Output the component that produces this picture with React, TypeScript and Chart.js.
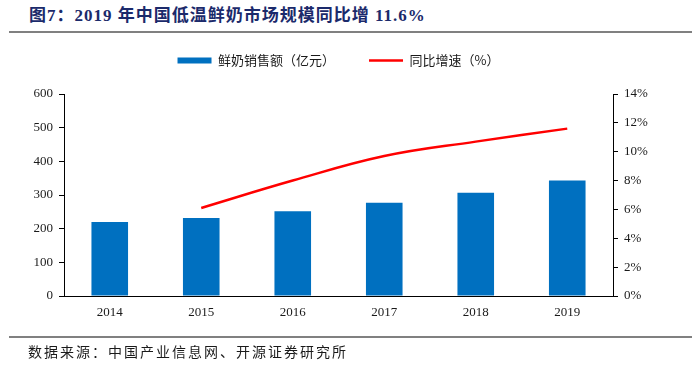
import React, { useEffect, useRef } from "react";
import { Chart, registerables } from "chart.js";

Chart.register(...registerables);

const categories = ["2014", "2015", "2016", "2017", "2018", "2019"];
const salesValues = [220, 232, 252, 277, 307, 343];
const growthValues: (number | null)[] = [null, 6.1, 8.0, 9.7, 10.7, 11.6];
const salesLabel = "鲜奶销售额（亿元）";
const growthLabel = "同比增速（%）";
const titleText = "图7：2019 年中国低温鲜奶市场规模同比增 11.6%";
const sourceText = "数据来源：中国产业信息网、开源证券研究所";

export default function App() {
  const canvasRef = useRef<HTMLCanvasElement | null>(null);

  useEffect(() => {
    if (!canvasRef.current) return;
    const tickFont = { family: "'Liberation Serif', 'Times New Roman', serif", size: 13 };
    const chart = new Chart(canvasRef.current, {
      type: "bar",
      data: {
        labels: categories,
        datasets: [
          {
            type: "bar",
            label: salesLabel,
            data: salesValues,
            backgroundColor: "#0070C0",
            borderWidth: 0,
            barPercentage: 0.4,
            categoryPercentage: 1,
            yAxisID: "y",
            order: 2,
          },
          {
            type: "line",
            label: growthLabel,
            data: growthValues,
            borderColor: "#FF0000",
            backgroundColor: "#FF0000",
            borderWidth: 2.5,
            pointRadius: 0,
            tension: 0.4,
            yAxisID: "y1",
            order: 1,
          },
        ] as any,
      },
      options: {
        animation: false,
        responsive: false,
        layout: { padding: { top: 20, left: 0, right: 0, bottom: 0 } },
        plugins: {
          title: {
            display: true,
            text: "",
            weight: 500,
            font: { size: 10, lineHeight: 1 },
            padding: { top: 0, bottom: 7 },
          },
          legend: {
            position: "top",
            fullSize: false,
            labels: {
              font: { family: "'Noto Sans CJK SC', sans-serif", size: 13 },
              color: "#1a1a1a",
              padding: 34,
              usePointStyle: true,
              pointStyleWidth: 34,
              boxHeight: 6,
              sort: (a: any, b: any) => a.datasetIndex - b.datasetIndex,
              generateLabels: (c: any) => {
                const items = Chart.defaults.plugins.legend.labels.generateLabels(c);
                return items.map((it: any) => {
                  const isBar = it.datasetIndex === 0;
                  return {
                    ...it,
                    pointStyle: isBar ? "rect" : "line",
                    lineWidth: isBar ? 0 : 2.5,
                    fillStyle: isBar ? "#0070C0" : "#FF0000",
                    strokeStyle: isBar ? "#0070C0" : "#FF0000",
                  };
                });
              },
            },
          },
          tooltip: { enabled: false },
        },
        scales: {
          x: {
            grid: { display: false, drawTicks: false },
            border: { display: true, color: "#000", width: 1 },
            ticks: { font: tickFont, color: "#1a1a1a", padding: 9 },
            afterFit: (s: any) => {
              s.height = 70;
            },
          },
          y: {
            position: "left",
            min: 0,
            max: 600,
            ticks: { stepSize: 100, font: tickFont, color: "#1a1a1a", padding: 6 },
            grid: { display: true, drawOnChartArea: false, drawTicks: true, tickLength: 5, tickColor: "#000" },
            border: { display: true, color: "#000", width: 1 },
            afterFit: (s: any) => {
              s.width = 64;
            },
          },
          y1: {
            position: "right",
            min: 0,
            max: 14,
            ticks: {
              stepSize: 2,
              font: tickFont,
              color: "#1a1a1a",
              padding: 6,
              callback: (v: any) => v + "%",
            },
            grid: { display: true, drawOnChartArea: false, drawTicks: true, tickLength: 5, tickColor: "#000" },
            border: { display: true, color: "#000", width: 1 },
            afterFit: (s: any) => {
              s.width = 87;
            },
          },
        },
      } as any,
    });
    return () => chart.destroy();
  }, []);

  return (
    <div style={{ position: "absolute", left: 0, top: 0, width: 700, height: 366, background: "#fff", overflow: "hidden" }}>
      <div
        style={{
          position: "absolute",
          left: 29,
          top: 6,
          fontFamily: "'Liberation Serif', 'Noto Sans CJK SC', serif",
          fontWeight: "bold",
          fontSize: 17,
          letterSpacing: "1px",
          color: "#1B2A6B",
          whiteSpace: "nowrap",
          lineHeight: "20px",
        }}
      >
        {titleText}
      </div>
      <div style={{ position: "absolute", left: 9, top: 31, width: 683, height: 2, background: "#808080" }} />
      <canvas ref={canvasRef} width={700} height={366} style={{ position: "absolute", left: 0, top: 0 }} />
      <div style={{ position: "absolute", left: 9, top: 336, width: 683, height: 2, background: "#808080" }} />
      <div
        style={{
          position: "absolute",
          left: 28,
          top: 342,
          fontFamily: "'Noto Sans CJK SC', serif",
          fontSize: 14,
          letterSpacing: "2px",
          color: "#1a1a1a",
          whiteSpace: "nowrap",
          lineHeight: "18px",
        }}
      >
        {sourceText}
      </div>
    </div>
  );
}
